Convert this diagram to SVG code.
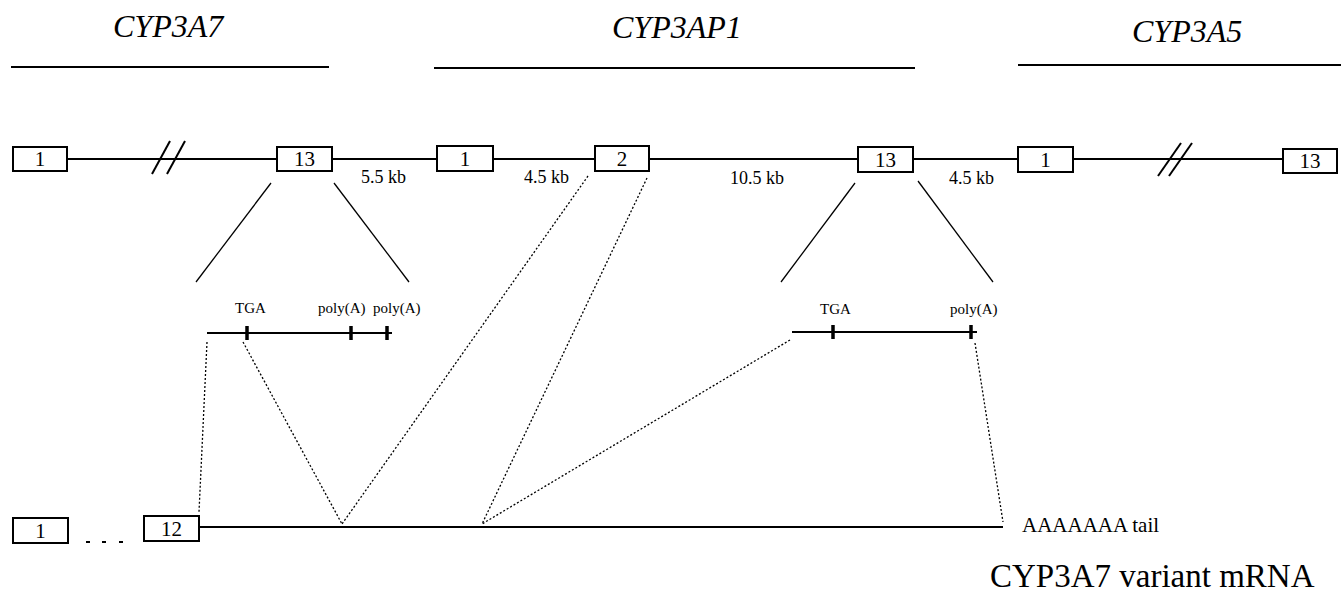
<svg xmlns="http://www.w3.org/2000/svg" width="1341" height="604" viewBox="0 0 1341 604">
<style>
.ex{fill:#fff;stroke:#000;stroke-width:2}
.t{font-family:"Liberation Serif",serif;fill:#000}
.gene{font-size:32px;font-style:italic}
.num{font-size:21px;text-anchor:middle}
.kb{font-size:18px}
.sm{font-size:15px}
.ln{stroke:#000;stroke-width:2;fill:none}
.thin{stroke:#000;stroke-width:1.3;fill:none}
.dot{stroke:#000;stroke-width:1.3;stroke-dasharray:2 2;fill:none}
.tick{stroke:#000;stroke-width:3.5}
</style>
<g id="titles">
<text class="t gene" x="113" y="37">CYP3A7</text>
<line class="ln" x1="11" y1="67" x2="329" y2="67"/>
<text class="t gene" x="612" y="38">CYP3AP1</text>
<line class="ln" x1="434" y1="68" x2="915" y2="68"/>
<text class="t gene" x="1132" y="42">CYP3A5</text>
<line class="ln" x1="1018" y1="65" x2="1341" y2="65"/>
</g>
<g id="connectors">
<line class="ln" x1="67" y1="159" x2="1283" y2="159"/>
<line class="ln" x1="152" y1="174" x2="170" y2="141"/>
<line class="ln" x1="167" y1="174" x2="185" y2="141"/>
<line class="ln" x1="1158" y1="176" x2="1181" y2="143"/>
<line class="ln" x1="1169" y1="176" x2="1192" y2="143"/>
<line class="thin" x1="271" y1="183" x2="196" y2="282"/>
<line class="thin" x1="334" y1="183" x2="409" y2="282"/>
<line class="thin" x1="855" y1="183" x2="781" y2="282"/>
<line class="thin" x1="918" y1="181" x2="993" y2="282"/>
<line class="dot" x1="207" y1="342" x2="199" y2="512"/>
<line class="dot" x1="243" y1="342" x2="342" y2="524"/>
<line class="dot" x1="588" y1="176" x2="342" y2="524"/>
<line class="dot" x1="647" y1="178" x2="482" y2="524"/>
<line class="dot" x1="790" y1="340" x2="482" y2="524"/>
<line class="dot" x1="975" y1="343" x2="1003" y2="522"/>
<line class="ln" x1="199" y1="527" x2="1003" y2="527"/>
</g>
<g id="cyp3a7-ex1"><rect class="ex" x="13" y="147" width="54" height="24"/><text class="t num" x="40" y="166">1</text></g>
<g id="cyp3a7-ex13"><rect class="ex" x="277" y="147" width="55" height="24"/><text class="t num" x="304.5" y="166">13</text></g>
<g id="cyp3ap1-ex1"><rect class="ex" x="437" y="146" width="56" height="25"/><text class="t num" x="465" y="166">1</text></g>
<g id="cyp3ap1-ex2"><rect class="ex" x="595" y="146" width="54" height="25"/><text class="t num" x="622" y="166">2</text></g>
<g id="cyp3ap1-ex13"><rect class="ex" x="858" y="147" width="55" height="25"/><text class="t num" x="885.5" y="167">13</text></g>
<g id="cyp3a5-ex1"><rect class="ex" x="1018" y="147" width="55" height="25"/><text class="t num" x="1045.5" y="167">1</text></g>
<g id="cyp3a5-ex13"><rect class="ex" x="1283" y="149" width="54" height="24"/><text class="t num" x="1310" y="168">13</text></g>
<g id="distances">
<text class="t kb" x="361" y="183">5.5 kb</text>
<text class="t kb" x="524" y="183">4.5 kb</text>
<text class="t kb" x="730" y="184">10.5 kb</text>
<text class="t kb" x="949" y="184">4.5 kb</text>
</g>
<g id="cyp3a7-3utr">
<line class="ln" x1="207" y1="333" x2="392" y2="333"/>
<line class="tick" x1="247" y1="326" x2="247" y2="340"/>
<line class="tick" x1="351" y1="326" x2="351" y2="340"/>
<line class="tick" x1="387" y1="326" x2="387" y2="340"/>
<text class="t sm" x="235" y="313">TGA</text>
<text class="t sm" x="318" y="313">poly(A)</text>
<text class="t sm" x="373" y="313">poly(A)</text>
</g>
<g id="cyp3ap1-3utr">
<line class="ln" x1="792" y1="332" x2="977" y2="332"/>
<line class="tick" x1="833" y1="325" x2="833" y2="339"/>
<line class="tick" x1="971" y1="325" x2="971" y2="339"/>
<text class="t sm" x="820" y="314">TGA</text>
<text class="t sm" x="950" y="314">poly(A)</text>
</g>
<g id="mrna-ex1"><rect class="ex" x="13" y="518" width="55" height="25"/><text class="t num" x="40.5" y="538">1</text></g>
<g id="mrna-dots">
<line class="ln" x1="86" y1="542" x2="90" y2="542"/>
<line class="ln" x1="102" y1="542" x2="106" y2="542"/>
<line class="ln" x1="119" y1="542" x2="123" y2="542"/>
</g>
<g id="mrna-ex12"><rect class="ex" x="144" y="516" width="55" height="25"/><text class="t num" x="171.5" y="536">12</text></g>
<g id="labels">
<text class="t" x="1022" y="532" font-size="21">AAAAAAA tail</text>
<text class="t" x="990" y="587" font-size="33">CYP3A7 variant mRNA</text>
</g>
</svg>
